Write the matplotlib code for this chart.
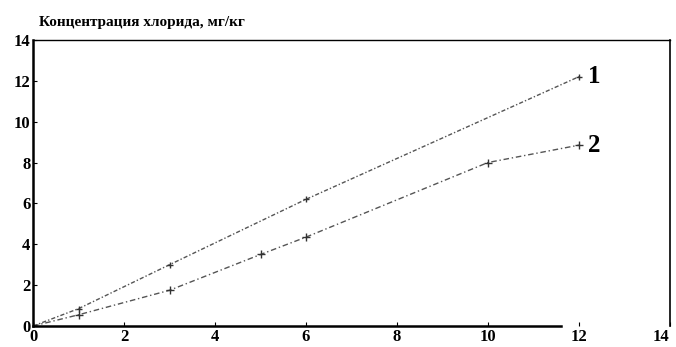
import matplotlib
matplotlib.use('Agg')
import matplotlib.pyplot as plt
import matplotlib.transforms as mtransforms

# данные
x1 = [0, 1, 3, 6, 12]
y1 = [0, 0.85, 3.0, 6.2, 12.2]
x2 = [0, 1, 3, 5, 6, 10, 12]
y2 = [0, 0.55, 1.75, 3.5, 4.35, 8.0, 8.85]
ticks = [0, 2, 4, 6, 8, 10, 12, 14]

plt.rcParams['font.family'] = ['Liberation Serif', 'DejaVu Serif']

fig = plt.figure(figsize=(6.76, 3.47), dpi=100)
ax = fig.add_axes([0.049, 0.0605, 0.942, 0.8245])

ax.plot(x1, y1, color='#555555', linewidth=1.0, linestyle=(0, (3, 1.5, 1, 1.5)),
        marker='+', markersize=5, markeredgecolor='#333333')
ax.plot(x2, y2, color='#555555', linewidth=1.0, linestyle=(0, (4, 2, 1, 2)),
        marker='+', markersize=6, markeredgecolor='#333333')

ax.text(12.2, 12.2, '1', fontsize=18, fontweight='bold', va='center', ha='left')
ax.text(12.2, 8.85, '2', fontsize=18, fontweight='bold', va='center', ha='left')

ax.set_xlim(0, 14)
ax.set_ylim(0, 14)
ax.set_xticks(ticks)
ax.set_yticks(ticks)
ax.tick_params(direction='in', length=3, width=0.8, labelsize=12, pad=2)
for lab in ax.get_xticklabels() + ax.get_yticklabels():
    lab.set_fontweight('bold')
# последняя подпись "14" стоит чуть левее рамки
last = ax.get_xticklabels()[-1]
last.set_transform(last.get_transform() +
                   mtransforms.ScaledTranslation(-0.09, 0, fig.dpi_scale_trans))

ax.spines['left'].set_linewidth(1.8)
ax.spines['bottom'].set_linewidth(1.8)
ax.spines['bottom'].set_bounds(0, 11.6)
ax.spines['top'].set_linewidth(1.0)
ax.spines['right'].set_linewidth(1.2)

fig.text(0.058, 0.935, 'Концентрация хлорида, мг/кг', fontsize=11,
         fontweight='bold', ha='left', va='center')

fig.savefig('out.png', dpi=100)
